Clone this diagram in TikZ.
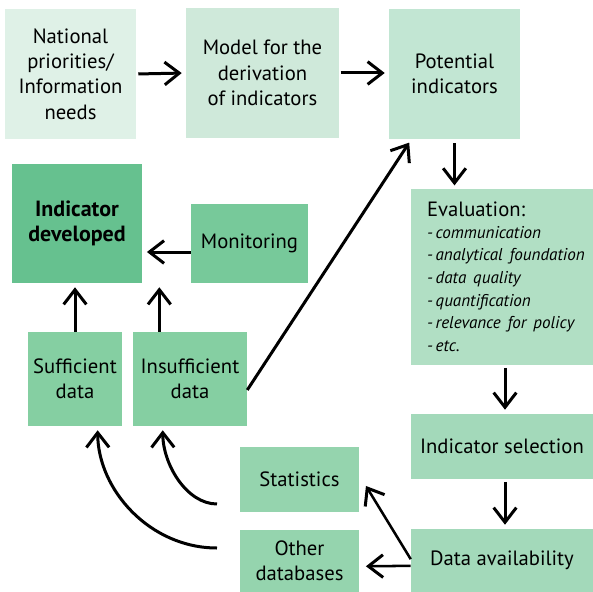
\documentclass[tikz,border=0pt]{standalone}
\usepackage{fontspec}
\setmainfont{PT Sans}
\usepackage{xcolor}
\usepackage{tikz}
\usetikzlibrary{shapes,arrows.meta}

\definecolor{gA}{HTML}{DFF1E7}
\definecolor{gB}{HTML}{CFE9DA}
\definecolor{gC}{HTML}{C2E6D3}
\definecolor{gD}{HTML}{B1DFC4}
\definecolor{gE}{HTML}{A3D9BA}
\definecolor{gF}{HTML}{95D4AE}
\definecolor{gG}{HTML}{85CFA2}
\definecolor{gH}{HTML}{77C99A}
\definecolor{gI}{HTML}{66C18F}

\begin{document}
\begin{tikzpicture}[x=0.75pt, y=-0.75pt,
    box/.style={rectangle, draw=none, align=center, inner sep=0pt,
        font=\fontsize{15.5}{19}\selectfont},
    arr/.style={line width=2.25pt, -{Straight Barb[length=11pt, width=17pt, line width=2.25pt]}}]
    \useasboundingbox (0,0) rectangle (593,592);

    \node (nat)[box, fill=gA, minimum width=98.25pt, minimum height=97.5pt] at (70.5,74) {National\\priorities/\\Information\\needs};
    \node (mod)[box, fill=gB, minimum width=114.75pt, minimum height=97.5pt] at (262.5,73) {Model for the\\derivation\\of indicators};
    \node (pot)[box, fill=gC, minimum width=98.25pt, minimum height=97.5pt] at (454.5,74) {Potential\\indicators};

    \node (eval)[box, fill=gD, minimum width=136.5pt, minimum height=132pt, text width=136.5pt, align=left] at (502,277)
        {\leftskip=12pt Evaluation:\\[-1pt]
        {\leftskip=12pt\fontsize{12.8}{17}\selectfont\itshape -\,communication\\
        -\,analytical foundation\\
        -\,data quality\\
        -\,quantification\\
        -\,relevance for policy\\
        -\,etc.\par}};
    \node (sel)[box, fill=gE, minimum width=136.5pt, minimum height=48.75pt] at (502,446.5) {Indicator selection};
    \node (avail)[box, fill=gE, minimum width=136.5pt, minimum height=47.25pt] at (502,560.5) {Data availability};

    \node (stat)[box, fill=gF, minimum width=89.25pt, minimum height=48.75pt] at (299.5,479.5) {Statistics};
    \node (oth)[box, fill=gF, minimum width=89.25pt, minimum height=46.5pt] at (299.5,561) {Other\\databases};

    \node (suf)[box, fill=gG, minimum width=70.5pt, minimum height=70.5pt] at (75,379) {Sufficient\\data};
    \node (insuf)[box, fill=gG, minimum width=85.5pt, minimum height=70.5pt] at (190,379) {Insufficient\\data};

    \node (dev)[box, fill=gI, minimum width=97.5pt, minimum height=89.25pt, font=\fontsize{16.5}{19}\selectfont\bfseries] at (77,223.5) {Indicator\\developed};
    \node (mon)[box, fill=gH, minimum width=87.75pt, minimum height=59.25pt] at (249.5,243.5) {Monitoring};

    \coordinate (st) at (217,504);
    \coordinate (ot) at (217,548);

    \draw[arr, shorten <=1.5pt, shorten >=3pt] (nat.east) -- (mod.west);
    \draw[arr, shorten <=1pt, shorten >=3pt] (mod.east) -- (pot.west |- mod.east);
    \draw[arr, shorten <=3pt, shorten >=2.5pt] (pot.south) -- (pot.south |- eval.north);
    \draw[arr, shorten <=2pt, shorten >=3pt] ([xshift=2.25pt]eval.south) -- ([xshift=2.25pt]sel.north);
    \draw[arr, shorten <=2pt, shorten >=3pt] ([xshift=2.25pt]sel.south) -- ([xshift=2.25pt]avail.north);

    \draw[arr, line width=1.9pt, shorten >=1pt] ([yshift=1pt]avail.west) -- ([xshift=4.5pt, yshift=-4pt]stat.east);
    \draw[arr, line width=1.9pt, shorten >=5pt] ([yshift=-4pt]avail.west) -- ([yshift=-4pt]oth.east);

    \draw[arr] (st) .. controls (187,504) and (163,465) .. ([xshift=22.5pt, yshift=-3pt]insuf.south west);
    \draw[arr] (ot) .. controls (150,548) and (98,490) .. ([xshift=17pt, yshift=-3pt]suf.south);

    \draw[arr, shorten >=3pt] ([yshift=-8.25pt]insuf.east) -- ([xshift=17pt]pot.south west);

    \draw[arr, shorten >=3pt] (suf.north) -- (suf.north |- dev.south);
    \draw[arr, shorten >=3pt] ([xshift=-23pt]insuf.north) -- ([xshift=-23pt]insuf.north |- mon.south);
    \draw[arr, shorten >=3.5pt] (mon.west |- 0,252) -- (dev.east |- 0,252);
\end{tikzpicture}
\end{document}
